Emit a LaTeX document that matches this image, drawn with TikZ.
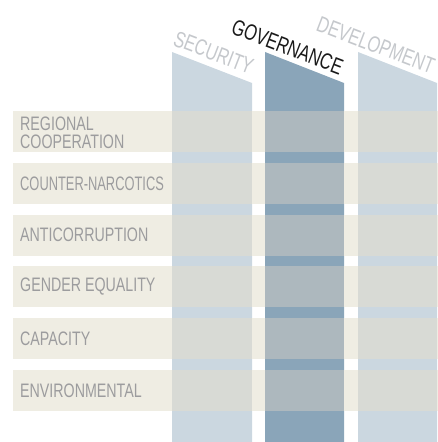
\documentclass[tikz,border=0pt]{standalone}
\usepackage{fontspec}
\usepackage{graphicx}
\setmainfont{Liberation Sans}
\newfontfamily\condfont[FakeStretch=0.73]{Liberation Sans}
\definecolor{beige}{HTML}{EFEDE3}
\definecolor{lightcol}{HTML}{CBD7E0}
\definecolor{darkcol}{HTML}{8AA5B9}
\definecolor{lightov}{HTML}{D8DAD5}
\definecolor{darkov}{HTML}{ADB8BE}
\definecolor{lblgray}{HTML}{9C9C9E}
\definecolor{headgray}{HTML}{C5C8CC}
\definecolor{headdark}{HTML}{1A1A1A}
\newcommand\cond[2][0.73]{\scalebox{#1}[1]{#2}}
\tikzset{
  lbl/.style={anchor=west, inner sep=0pt, text=lblgray, align=left,
    font=\condfont\fontsize{19.5}{18.3}\selectfont},
  head/.style={anchor=base west, inner sep=0pt, rotate=-21,
    font=\fontsize{22.5}{24}\selectfont},
}
\begin{document}
\begin{tikzpicture}[x=1pt,y=1pt]
\useasboundingbox (0,0) rectangle (438,442);
% columns
\fill[lightcol] (172,0) -- (172,390) -- (252,359) -- (252,0) -- cycle;
\fill[darkcol]  (265,0) -- (265,390) -- (344,359) -- (344,0) -- cycle;
\fill[lightcol] (358,0) -- (358,390) -- (437,359) -- (437,0) -- cycle;
% rows
\foreach \i in {0,...,5} {
  \pgfmathsetmacro\t{331-51.8*\i}
  \pgfmathsetmacro\b{\t-41}
  \fill[beige] (13,\b) rectangle (438,\t);
  \fill[lightov] (172,\b) rectangle (252,\t);
  \fill[darkov] (265,\b) rectangle (344,\t);
  \fill[lightov] (358,\b) rectangle (437,\t);
}
% row labels
\node[lbl] (r1) at (20,309.5) {REGIONAL\\COOPERATION};
\node[lbl, font=\fontsize{19.5}{18.3}\selectfont] (r2) at (20,258.7) {\cond[0.66]{COUNTER-NARCOTICS}};
\node[lbl] (r3) at (20,206.9) {ANTICORRUPTION};
\node[lbl] (r4) at (20,155.1) {GENDER EQUALITY};
\node[lbl] (r5) at (20,103.3) {CAPACITY};
\node[lbl] (r6) at (20,51.5) {ENVIRONMENTAL};
% headers
\node[head, text=headgray] (h1) at (172,397) {\cond{SECURITY}};
\node[head, text=headdark] (h2) at (230,409) {\cond{GOVERNANCE}};
\node[head, text=headgray] (h3) at (315,412) {\cond{DEVELOPMENT}};
\end{tikzpicture}
\end{document}
